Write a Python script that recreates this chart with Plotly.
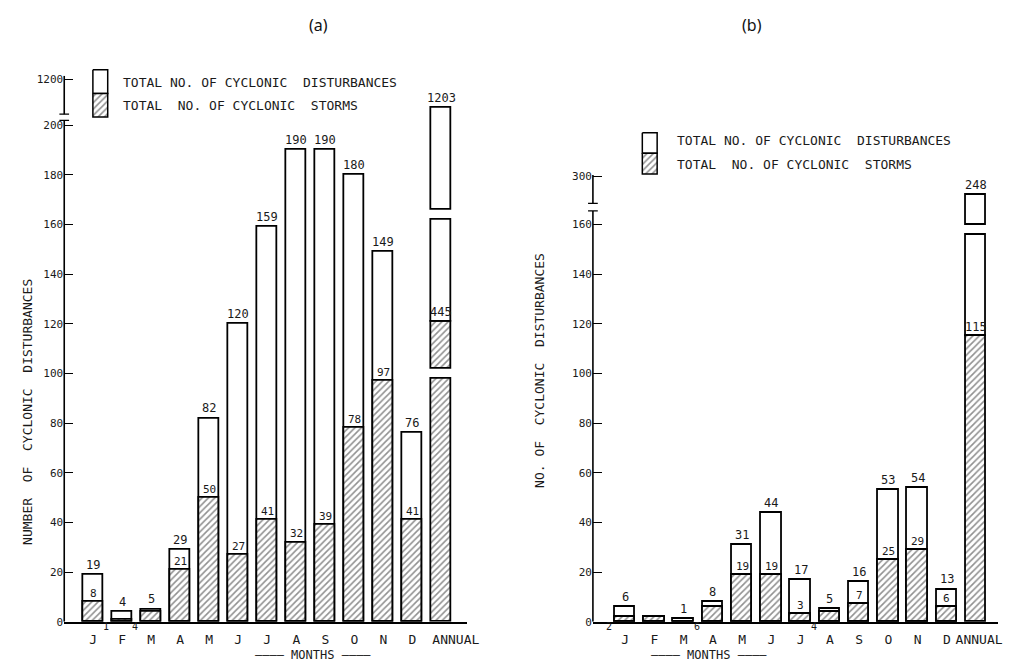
import plotly.graph_objects as go

# ---------------- data ----------------
months = ["J", "F", "M", "A", "M", "J", "J", "A", "S", "O", "N", "D", "ANNUAL"]

a_total = [19, 4, 5, 29, 82, 120, 159, 190, 190, 180, 149, 76]
a_storms = [8, 1, 4, 21, 50, 27, 41, 32, 39, 78, 97, 41]
a_annual_total = 1203
a_annual_storms = 445

b_total = [6, 2, 1, 8, 31, 44, 17, 5, 16, 53, 54, 13]
b_storms = [2, 2, 0, 6, 19, 19, 3, 4, 7, 25, 29, 6]
b_annual_total = 248
b_annual_storms = 115

a_yticks = [0, 20, 40, 60, 80, 100, 120, 140, 160, 180, 200]
a_top_tick = "1200"
b_yticks = [0, 20, 40, 60, 80, 100, 120, 140, 160]
b_top_tick = "300"

legend_labels = ["TOTAL NO. OF CYCLONIC  DISTURBANCES", "TOTAL  NO. OF CYCLONIC  STORMS"]

# ---------------- styling / broken-axis display positions ----------------
FONT = "DejaVu Sans Mono, Liberation Mono, monospace"
INK = "#1a1a1a"
HATCH = dict(shape="/", fgcolor="#222222", bgcolor="white", size=4.5, solidity=0.35)
OUT = dict(color="black", width=1.8)

# display heights used for the broken annual bars
A_BRK = dict(storm_low_top=98, storm_up_base=102, storm_top=121,
             total_low_top=162, total_up_base=166, total_top=207,
             axis_gap=(202, 204.5), top_tick=218.5, ymax=220, label_shift=0.5)
B_BRK = dict(total_low_top=156, total_up_base=160, total_top=172,
             axis_gap=(165.5, 168.5), top_tick=179.5, ymax=180, label_shift=0.1)

fig = go.Figure()
annotations = []
shapes = []


def seg(xa, ya, x, base, top, hatched):
    m = dict(color="white", line=OUT)
    if hatched:
        m["pattern"] = HATCH
    fig.add_trace(go.Bar(x=[x], y=[top - base], base=[base], width=0.7,
                         marker=m, xaxis=xa, yaxis=ya, showlegend=False,
                         hoverinfo="skip"))


def panel(xa, ya, totals, storms, ann_total, ann_storms, brk, annual_broken_storms):
    n = len(totals)
    xs = list(range(n))
    fig.add_trace(go.Bar(x=xs, y=totals, width=0.7, marker=dict(color="white", line=OUT),
                         xaxis=xa, yaxis=ya, showlegend=False, hoverinfo="skip"))
    fig.add_trace(go.Bar(x=xs, y=storms, width=0.7,
                         marker=dict(color="white", line=OUT, pattern=HATCH),
                         xaxis=xa, yaxis=ya, showlegend=False, hoverinfo="skip"))
    xr, yr = xa, ya
    for i, (t, s) in enumerate(zip(totals, storms)):
        if t != s:
            annotations.append(dict(x=i, y=t, xref=xr, yref=yr, text=str(t), showarrow=False,
                                    yanchor="bottom", yshift=1, font=dict(size=12, color=INK, family=FONT)))
        if 0 < s < t:
            if t - s >= 5:
                annotations.append(dict(x=i, y=s, xref=xr, yref=yr, text=str(s), showarrow=False,
                                        yanchor="bottom", yshift=0, font=dict(size=11, color=INK, family=FONT)))
            else:
                annotations.append(dict(x=i - 0.38, y=0, xref=xr, yref=yr, text=str(s), showarrow=False,
                                        xanchor="right", yanchor="top", yshift=3,
                                        font=dict(size=10, color=INK, family=FONT)))
    # annual bar
    k = n
    if annual_broken_storms:
        seg(xa, ya, k, 0, brk["storm_low_top"], True)
        seg(xa, ya, k, brk["storm_up_base"], brk["storm_top"], True)
        s_top = brk["storm_top"]
    else:
        seg(xa, ya, k, 0, ann_storms, True)
        s_top = ann_storms
    seg(xa, ya, k, s_top, brk["total_low_top"], False)
    seg(xa, ya, k, brk["total_up_base"], brk["total_top"], False)
    annotations.append(dict(x=k, y=brk["total_top"], xref=xr, yref=yr, text=str(ann_total), showarrow=False,
                            yanchor="bottom", yshift=1, font=dict(size=12, color=INK, family=FONT)))
    annotations.append(dict(x=k, y=s_top, xref=xr, yref=yr, text=str(ann_storms), showarrow=False,
                            yanchor="bottom", yshift=0, font=dict(size=12, color=INK, family=FONT)))
    # broken y axis line
    g0, g1 = brk["axis_gap"]
    dom = xr + " domain"
    for y0, y1 in [(0, g0), (g1, brk["ymax"])]:
        shapes.append(dict(type="line", xref=dom, yref=yr, x0=0, x1=0, y0=y0, y1=y1,
                           line=dict(color="black", width=1.6)))
    shapes.append(dict(type="line", xref=dom, yref=yr, x0=-0.012, x1=0.012, y0=g0, y1=g0,
                       line=dict(color="black", width=1.2)))
    shapes.append(dict(type="line", xref=dom, yref=yr, x0=-0.012, x1=0.012, y0=g1, y1=g1,
                       line=dict(color="black", width=1.2)))


panel("x", "y", a_total, a_storms, a_annual_total, a_annual_storms, A_BRK, True)
panel("x2", "y2", b_total, b_storms, b_annual_total, b_annual_storms, B_BRK, False)

# ---------------- legend swatches (pixel axis spanning the page) ----------------
W, H = 1016, 671
for (bx, by, bh) in [(94, 66, 48), (650, 130, 42)]:
    half = bh / 2
    fig.add_trace(go.Scatter(x=[bx, bx + 15, bx + 15, bx, bx], y=[by, by, by + half, by + half, by],
                             fill="toself", fillcolor="white", mode="lines",
                             line=dict(color="black", width=1.5), xaxis="x3", yaxis="y3",
                             showlegend=False, hoverinfo="skip"))
    fig.add_trace(go.Scatter(x=[bx, bx + 15, bx + 15, bx, bx],
                             y=[by + half, by + half, by + bh, by + bh, by + half],
                             fill="toself", fillcolor="white", fillpattern=HATCH, mode="lines",
                             line=dict(color="black", width=1.5), xaxis="x3", yaxis="y3",
                             showlegend=False, hoverinfo="skip"))

for (tx, ty1, ty2) in [(122, 79, 102), (683, 138, 162)]:
    for lab, ty in zip(legend_labels, [ty1, ty2]):
        annotations.append(dict(x=tx / W, y=1 - ty / H, xref="paper", yref="paper", text=lab,
                                showarrow=False, xanchor="left", yanchor="middle",
                                font=dict(size=13, color=INK, family=FONT)))

# titles
annotations += [
    dict(x=311 / W, y=1 - 20 / H, xref="paper", yref="paper", text="(a)", showarrow=False,
         yanchor="middle", font=dict(size=16, color="#111", family="Noto Sans")),
    dict(x=773 / W, y=1 - 20 / H, xref="paper", yref="paper", text="(b)", showarrow=False,
         yanchor="middle", font=dict(size=16, color="#111", family="Noto Sans")),
    dict(x=18 / W, y=1 - 414 / H, xref="paper", yref="paper", text="NUMBER  OF  CYCLONIC  DISTURBANCES",
         textangle=-90, showarrow=False, font=dict(size=13, color=INK, family=FONT)),
    dict(x=546 / W, y=1 - 372 / H, xref="paper", yref="paper", text="NO. OF  CYCLONIC  DISTURBANCES",
         textangle=-90, showarrow=False, font=dict(size=13, color=INK, family=FONT)),
    dict(x=256 / W, y=1 - 662 / H, xref="paper", yref="paper", text="———— MONTHS ————",
         yanchor="middle", showarrow=False, font=dict(size=12, color=INK, family=FONT)),
    dict(x=778 / W, y=1 - 662 / H, xref="paper", yref="paper", text="———— MONTHS ————",
         yanchor="middle", showarrow=False, font=dict(size=12, color=INK, family=FONT)),
]


def xax(shift):
    tv = list(range(len(months) - 1)) + [len(months) - 1 + shift]
    return dict(showline=True, linecolor="black", linewidth=1.6, ticks="", showgrid=False,
                zeroline=False, tickvals=tv, ticktext=months, ticklabelstandoff=5,
                tickfont=dict(size=13, color=INK, family=FONT), fixedrange=True)


yax_common = dict(showline=False, ticks="inside", ticklen=9, tickcolor="black", tickwidth=1.3,
                  showgrid=False, zeroline=False, tickfont=dict(size=11, color=INK, family=FONT),
                  fixedrange=True)

fig.update_layout(
    width=W, height=H, margin=dict(l=0, r=0, t=0, b=0),
    paper_bgcolor="white", plot_bgcolor="rgba(0,0,0,0)",
    barmode="overlay", bargap=0,
    xaxis=dict(domain=[65 / W, 473 / W], range=[-1.0, 12.9], anchor="y", **xax(A_BRK["label_shift"])),
    yaxis=dict(domain=[(H - 628) / H, (H - 72) / H], range=[0, A_BRK["ymax"]], anchor="x",
               tickvals=a_yticks + [A_BRK["top_tick"]],
               ticktext=[str(v) for v in a_yticks] + [a_top_tick], **yax_common),
    xaxis2=dict(domain=[600 / W, 1010 / W], range=[-1.1, 12.75], anchor="y2", **xax(B_BRK["label_shift"])),
    yaxis2=dict(domain=[(H - 628) / H, (H - 173) / H], range=[0, B_BRK["ymax"]], anchor="x2",
                tickvals=b_yticks + [B_BRK["top_tick"]],
                ticktext=[str(v) for v in b_yticks] + [b_top_tick], **yax_common),
    xaxis3=dict(domain=[0, 1], range=[0, W], visible=False, anchor="y3", fixedrange=True),
    yaxis3=dict(domain=[0, 1], range=[H, 0], visible=False, anchor="x3", fixedrange=True),
    annotations=annotations, shapes=shapes,
)

clip_js = (
    "document.documentElement.style.overflow='hidden';"
    "document.body.style.margin='0px';document.body.style.overflow='hidden';"
)
fig.write_html("out.html", config={"displayModeBar": False}, post_script=clip_js)
